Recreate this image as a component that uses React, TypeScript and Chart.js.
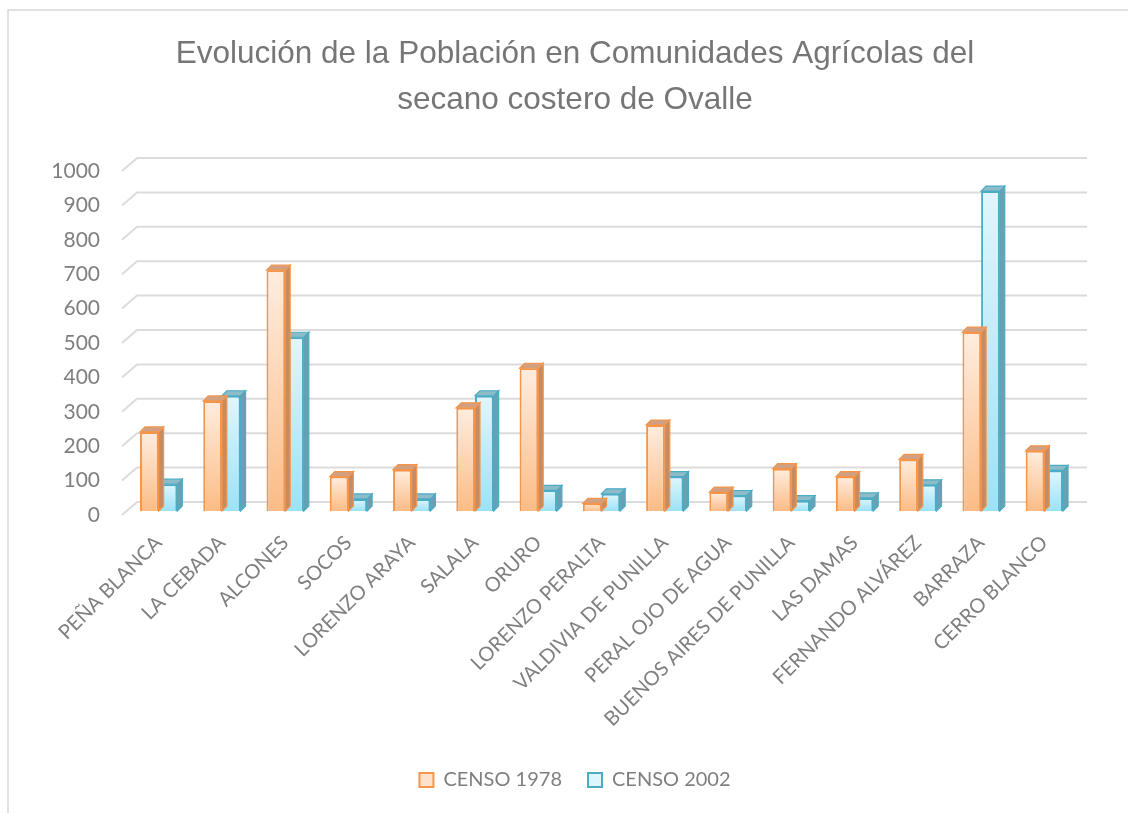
import React, { useEffect, useRef } from "react";
import { Chart, registerables } from "chart.js";

Chart.register(...registerables);

const categories = [
  "PEÑA BLANCA",
  "LA CEBADA",
  "ALCONES",
  "SOCOS",
  "LORENZO ARAYA",
  "SALALA",
  "ORURO",
  "LORENZO PERALTA",
  "VALDIVIA DE PUNILLA",
  "PERAL OJO DE AGUA",
  "BUENOS AIRES DE PUNILLA",
  "LAS DAMAS",
  "FERNANDO ALVÁREZ",
  "BARRAZA",
  "CERRO BLANCO",
];
const censo1978 = [230, 320, 700, 100, 120, 300, 415, 22, 250, 55, 123, 100, 150, 520, 175];
const censo2002 = [78, 335, 505, 35, 35, 335, 60, 50, 100, 45, 30, 38, 76, 930, 118];
const seriesNames = ["CENSO 1978", "CENSO 2002"];
const titleLines = ["Evolución de la Población en Comunidades Agrícolas del", "secano costero de Ovalle"];

const STYLE = [
  { border: "#F5954A", top: "#FFEDDF", bottom: "#FBBC86", side: "#C58C63", cap: "#D1A082", legend: "#FDE1CB" },
  { border: "#4BACC6", top: "#E0F6FD", bottom: "#9CE2F7", side: "#6AA0AF", cap: "#8DBBC8", legend: "#DDF5FC" },
];
const DX = 5;
const DY = -5;
const GRAY = "#7F7F7F";
const TICK_FONT = "Lato, 'Open Sans', sans-serif";
const LEGEND_PAD = 26;

function gradientFor(ctx: any, si: number) {
  const chart = ctx.chart;
  const ys = chart.scales && chart.scales.y;
  const st = STYLE[si];
  if (!ys || ctx.type !== "data") return st.bottom;
  const v = ctx.raw as number;
  const top = ys.getPixelForValue(v);
  const bot = ys.getPixelForValue(0);
  if (!isFinite(top) || !isFinite(bot) || top === bot) return st.bottom;
  const g = chart.ctx.createLinearGradient(0, top, 0, bot);
  g.addColorStop(0, st.top);
  g.addColorStop(1, st.bottom);
  return g;
}

const depthPlugin = {
  id: "depth3d",
  beforeDraw(chart: any) {
    const c = chart.ctx;
    c.save();
    c.strokeStyle = "#D9D9D9";
    c.lineWidth = 1.5;
    c.beginPath();
    c.moveTo(8, 813);
    c.lineTo(8, 10);
    c.lineTo(1128, 10);
    c.stroke();
    c.restore();
  },
  beforeDatasetsDraw(chart: any) {
    const c = chart.ctx;
    const ys = chart.scales.y;
    const { left, right } = chart.chartArea;
    c.save();
    c.strokeStyle = "#DCDCDC";
    c.lineWidth = 2;
    ys.ticks.forEach((t: any) => {
      const y = ys.getPixelForValue(t.value);
      c.beginPath();
      c.moveTo(left - 5, y + 4);
      c.lineTo(left + 10, y - 9);
      c.lineTo(right + 11, y - 9);
      c.stroke();
    });
    c.restore();
  },
  afterDatasetDraw(chart: any, args: any) {
    const c = chart.ctx;
    const st = STYLE[args.index];
    c.save();
    c.lineWidth = 1.2;
    c.strokeStyle = st.border;
    args.meta.data.forEach((el: any) => {
      const { x, y, base, width } = el.getProps(["x", "y", "base", "width"], true);
      const l = x - width / 2;
      const r = x + width / 2;
      c.beginPath();
      c.moveTo(r, y);
      c.lineTo(r + DX, y + DY);
      c.lineTo(r + DX, base + DY);
      c.lineTo(r, base);
      c.closePath();
      c.fillStyle = st.side;
      c.fill();
      c.stroke();
      c.beginPath();
      c.moveTo(l, y);
      c.lineTo(l + DX, y + DY);
      c.lineTo(r + DX, y + DY);
      c.lineTo(r, y);
      c.closePath();
      c.fillStyle = st.cap;
      c.fill();
      c.stroke();
    });
    c.restore();
  },
};

export default function App() {
  const ref = useRef<HTMLCanvasElement | null>(null);
  useEffect(() => {
    if (!ref.current) return;
    const chart = new Chart(ref.current, {
      type: "bar",
      data: {
        labels: categories,
        datasets: [
          {
            label: seriesNames[0],
            data: censo1978,
            backgroundColor: (ctx: any) => gradientFor(ctx, 0),
            borderColor: STYLE[0].border,
            borderWidth: 2,
            categoryPercentage: 0.59,
            barPercentage: 1,
          },
          {
            label: seriesNames[1],
            data: censo2002,
            backgroundColor: (ctx: any) => gradientFor(ctx, 1),
            borderColor: STYLE[1].border,
            borderWidth: 2,
            categoryPercentage: 0.59,
            barPercentage: 1,
          },
        ],
      },
      options: {
        responsive: false,
        animation: false,
        maintainAspectRatio: false,
        layout: { padding: { left: 30, right: 8, top: 10, bottom: 13 } },
        plugins: {
          title: {
            display: true,
            text: titleLines,
            color: "#767676",
            font: { family: "'Liberation Sans Narrow', 'Arial Narrow', 'Liberation Sans', sans-serif", size: 31.5, weight: "normal", lineHeight: 1.46 },
            padding: { top: 21, bottom: 44 },
          },
          legend: {
            display: true,
            position: "bottom",
            labels: {
              color: GRAY,
              font: { family: TICK_FONT, size: 20 },
              boxWidth: 14,
              boxHeight: 14,
              padding: LEGEND_PAD,
              generateLabels: (ch: any) =>
                ch.data.datasets.map((d: any, i: number) => ({
                  text: d.label,
                  fillStyle: STYLE[i].legend,
                  strokeStyle: STYLE[i].border,
                  lineWidth: 2,
                  fontColor: GRAY,
                  hidden: false,
                  datasetIndex: i,
                })),
            },
          },
          tooltip: { enabled: false },
        },
        scales: {
          x: {
            offset: true,
            grid: { display: false, drawTicks: false },
            border: { display: false },
            ticks: {
              color: GRAY,
              font: { family: TICK_FONT, size: 20 },
              minRotation: 45,
              maxRotation: 45,
              autoSkip: false,
              padding: 20,
            },
            afterFit: (s: any) => {
              s.height = 259 - LEGEND_PAD;
            },
          },
          y: {
            min: 0,
            max: 1000,
            grid: { display: false, drawTicks: false },
            border: { display: false },
            ticks: {
              stepSize: 100,
              color: GRAY,
              font: { family: TICK_FONT, size: 21 },
              padding: 27,
              labelOffset: 4,
              callback: (v: any) => String(v),
            },
            afterFit: (s: any) => {
              s.width = 97;
            },
          },
          y2: {
            position: "right",
            display: true,
            grid: { display: false, drawTicks: false },
            border: { display: false },
            ticks: { display: false },
            afterFit: (s: any) => {
              s.width = 44;
            },
          },
        },
      },
      plugins: [depthPlugin],
    });
    return () => chart.destroy();
  }, []);
  return (
    <div style={{ position: "fixed", left: 0, top: 0, width: 1128, height: 813, background: "#fff" }}>
      <canvas ref={ref} width={1128} height={813} style={{ display: "block" }} />
    </div>
  );
}
